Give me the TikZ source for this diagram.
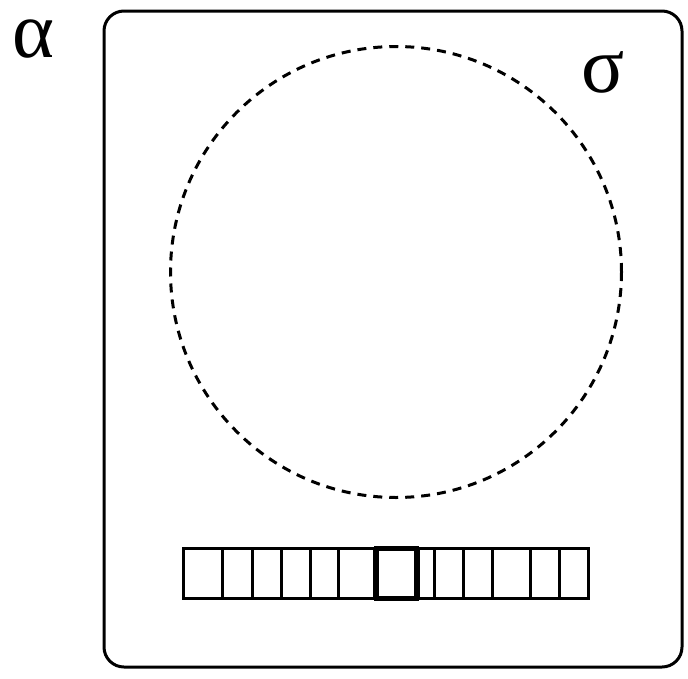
\documentclass[tikz,border=0pt]{standalone}
\usepackage{fontspec}
\setmainfont{Liberation Serif}
\begin{document}
\begin{tikzpicture}[x=1pt,y=-1pt,
  greek/.style={font=\fontsize{80}{84}\selectfont,inner sep=0pt,anchor=base,text height=36pt,text depth=0pt}]
\useasboundingbox (0,0) rectangle (688,678);
\draw[line width=3pt,rounded corners=20pt] (104,11) rectangle (682,667);
\node[draw=black,dashed,line width=3pt,dash pattern=on 9pt off 7pt,circle,minimum size=451pt,inner sep=0pt] (c) at (396,272) {};
\node[greek] (alpha) at (33,57) {α};
\node[greek] (sigma) at (603,92) {σ};
\foreach \a/\b [count=\i] in {183.5/222,222/252,252/281,281/310,310/338,338/374,418/434,434/463,463/492,492/530,530/559,559/588}{
  \draw[line width=3pt] (\a,548) rectangle (\b,598);
}
\draw[line width=5pt] (376,548) rectangle (416,598);
\end{tikzpicture}
\end{document}
